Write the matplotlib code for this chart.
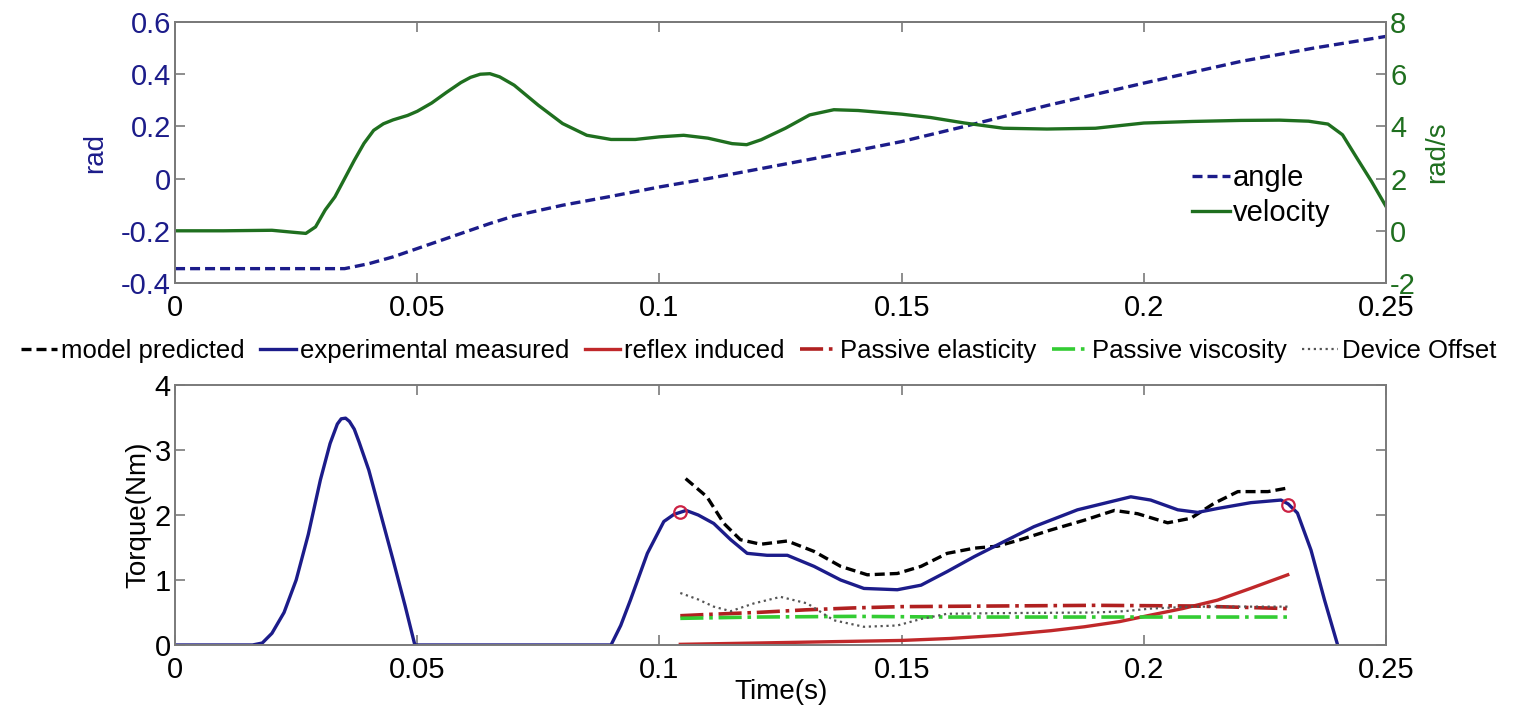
import matplotlib
matplotlib.use("Agg")
import matplotlib.pyplot as plt
from matplotlib.ticker import FormatStrFormatter
import numpy as np

plt.rcParams["font.family"] = ["Liberation Sans", "DejaVu Sans"]
plt.rcParams["axes.unicode_minus"] = False

# ---- top panel: joint angle / velocity ----
vel_t = [0, 0.01, 0.02, 0.024, 0.027, 0.029, 0.031, 0.033, 0.035, 0.037, 0.039, 0.041,
         0.043, 0.045, 0.048, 0.05, 0.053, 0.056, 0.059, 0.061, 0.063, 0.065, 0.067,
         0.07, 0.075, 0.08, 0.085, 0.09, 0.095, 0.1, 0.105, 0.11, 0.115, 0.118, 0.121,
         0.126, 0.131, 0.136, 0.141, 0.15, 0.156, 0.163, 0.171, 0.18, 0.19, 0.2, 0.21,
         0.22, 0.228, 0.234, 0.238, 0.241, 0.244, 0.247, 0.25]
velocity = [0.0, 0.0, 0.02, -0.05, -0.1, 0.15, 0.8, 1.3, 2.0, 2.7, 3.35, 3.85,
            4.1, 4.25, 4.42, 4.58, 4.9, 5.3, 5.68, 5.88, 6.0, 6.02, 5.9,
            5.58, 4.81, 4.11, 3.66, 3.5, 3.5, 3.6, 3.66, 3.55, 3.34, 3.3, 3.49,
            3.93, 4.44, 4.64, 4.61, 4.47, 4.34, 4.13, 3.93, 3.9, 3.93, 4.13, 4.19,
            4.23, 4.24, 4.2, 4.09, 3.68, 2.78, 1.89, 0.93]

ang_t = [0, 0.035, 0.04, 0.045, 0.05, 0.055, 0.06, 0.065, 0.07, 0.08, 0.09, 0.1,
         0.11, 0.12, 0.13, 0.14, 0.15, 0.163, 0.18, 0.2, 0.22, 0.235, 0.25]
angle = [-0.345, -0.345, -0.326, -0.30, -0.268, -0.236, -0.204, -0.172, -0.143,
         -0.102, -0.068, -0.032, 0.0, 0.035, 0.07, 0.105, 0.142, 0.2, 0.28, 0.366,
         0.449, 0.5, 0.545]

# ---- bottom panel: torque components ----
exp_t = [0, 0.016, 0.018, 0.02, 0.0225, 0.025, 0.0275, 0.03, 0.032, 0.0335, 0.0343,
         0.0352, 0.036, 0.037, 0.038, 0.04, 0.0425, 0.045, 0.0475, 0.0495, 0.09, 0.092,
         0.094, 0.0975, 0.1009, 0.103, 0.1055, 0.108, 0.1112, 0.1147, 0.1181, 0.1222,
         0.1264, 0.1319, 0.1374, 0.1422, 0.1491, 0.154, 0.1594, 0.165, 0.1711, 0.1773,
         0.1863, 0.1973, 0.2014, 0.207, 0.2111, 0.2152, 0.2221, 0.2283, 0.2298, 0.2317,
         0.2345, 0.2373, 0.24]
exp_torque = [0, 0, 0.03, 0.18, 0.5, 1.0, 1.7, 2.54, 3.1, 3.4, 3.48,
              3.49, 3.44, 3.32, 3.12, 2.69, 2.0, 1.31, 0.6, 0.0, 0.0, 0.3,
              0.69, 1.41, 1.9, 2.01, 2.07, 2.0, 1.87, 1.62, 1.41, 1.38,
              1.38, 1.21, 1.0, 0.87, 0.85, 0.92, 1.13, 1.36, 1.59, 1.82,
              2.08, 2.28, 2.23, 2.08, 2.04, 2.10, 2.19, 2.23, 2.17, 2.03,
              1.46, 0.69, 0.0]

model_t = [0.1054, 0.1098, 0.1133, 0.1167, 0.1209, 0.1264, 0.1319, 0.1374, 0.1429,
           0.1491, 0.154, 0.1594, 0.165, 0.1698, 0.1745, 0.1808, 0.1877, 0.1939,
           0.1987, 0.2049, 0.2097, 0.2145, 0.2194, 0.2256, 0.2293]
model_torque = [2.56, 2.28, 1.87, 1.62, 1.55, 1.60, 1.44, 1.21, 1.08,
                1.10, 1.21, 1.41, 1.49, 1.52, 1.62, 1.77, 1.92, 2.07,
                2.02, 1.88, 1.95, 2.18, 2.36, 2.36, 2.41]

reflex_t = [0.1043, 0.12, 0.135, 0.15, 0.16, 0.1705, 0.1808, 0.1877, 0.195, 0.2014,
            0.208, 0.2152, 0.222, 0.2297]
reflex = [0.01, 0.03, 0.05, 0.07, 0.1, 0.15, 0.22, 0.28, 0.36, 0.46,
          0.56, 0.69, 0.87, 1.08]

elast_t = [0.1043, 0.11, 0.12, 0.13, 0.14, 0.15, 0.17, 0.19, 0.21, 0.22, 0.2297]
elasticity = [0.45, 0.47, 0.5, 0.54, 0.57, 0.59, 0.6, 0.61, 0.6, 0.58, 0.56]

visc_t = [0.1043, 0.12, 0.14, 0.16, 0.18, 0.2, 0.2297]
viscosity = [0.41, 0.43, 0.44, 0.43, 0.43, 0.43, 0.43]

offset_t = [0.1043, 0.108, 0.1112, 0.1147, 0.1195, 0.125, 0.1305, 0.136, 0.1422,
            0.1491, 0.154, 0.1594, 0.17, 0.19, 0.196, 0.2014, 0.21, 0.2297]
offset = [0.80, 0.70, 0.59, 0.52, 0.64, 0.74, 0.64, 0.38, 0.28,
          0.30, 0.40, 0.48, 0.49, 0.50, 0.52, 0.56, 0.59, 0.59]

marker_t = [0.1043, 0.2298]
marker_torque = [2.05, 2.16]

NAVY = "#1c1c8a"
GREEN = "#1f6f1f"
SPINE = "#7a7a7a"
FS = 21


def style_axes(ax):
    for s in ax.spines.values():
        s.set_color(SPINE)
        s.set_linewidth(1.4)
    ax.tick_params(direction="in", length=7, width=1.2, color=SPINE, labelsize=FS, pad=3)
    ax.tick_params(axis="x", pad=8)


fig = plt.figure(figsize=(15.17, 7.13), dpi=100)

# top panel
ax1 = fig.add_axes([0.1154, 0.6031, 0.7983, 0.366])
ax2 = ax1.twinx()
l_ang, = ax1.plot(ang_t, angle, color=NAVY, linestyle="--", linewidth=2.4, dashes=(3, 1.5))
l_vel, = ax2.plot(vel_t, velocity, color=GREEN, linewidth=2.4)
ax1.set_xlim(0, 0.25)
ax1.set_ylim(-0.4, 0.6)
ax2.set_ylim(-2, 8)
ax1.set_xticks(np.arange(0, 0.26, 0.05))
ax1.xaxis.set_major_formatter(FormatStrFormatter("%g"))
ax1.set_yticks([-0.4, -0.2, 0, 0.2, 0.4, 0.6])
ax1.yaxis.set_major_formatter(FormatStrFormatter("%g"))
ax2.set_yticks([-2, 0, 2, 4, 6, 8])
style_axes(ax1)
style_axes(ax2)
ax1.tick_params(axis="x", top=True)
ax1.tick_params(axis="y", right=False, labelcolor=NAVY)
ax2.tick_params(axis="y", labelcolor=GREEN)
ax1.set_ylabel("rad", color=NAVY, fontsize=FS - 1, labelpad=9)
ax2.set_ylabel("rad/s", color=GREEN, fontsize=FS - 1, labelpad=6)
ax1.legend([l_ang, l_vel], ["angle", "velocity"], loc="upper left",
           bbox_to_anchor=(0.83, 0.5), frameon=False, fontsize=21,
           handlelength=1.3, handletextpad=0.1, labelspacing=0.25, borderaxespad=0)

# bottom panel
ax3 = fig.add_axes([0.1154, 0.0954, 0.7983, 0.3646])
h_model, = ax3.plot(model_t, model_torque, color="black", linestyle="--", linewidth=2.4,
                    dashes=(3, 1.5), label="model predicted")
h_exp, = ax3.plot(exp_t, exp_torque, color=NAVY, linewidth=2.4, label="experimental measured")
h_ref, = ax3.plot(reflex_t, reflex, color="#c0282a", linewidth=2.4, label="reflex induced")
h_el, = ax3.plot(elast_t, elasticity, color="#b02020", linestyle="-.", linewidth=2.6,
                 label="Passive elasticity")
h_vi, = ax3.plot(visc_t, viscosity, color="#33cc33", linestyle="-.", linewidth=2.6,
                 label="Passive viscosity")
h_off, = ax3.plot(offset_t, offset, color="#555555", linestyle=":", linewidth=1.6,
                  label="Device Offset")
ax3.plot(marker_t, marker_torque, linestyle="none", marker="o", markersize=9,
         markerfacecolor="none", markeredgecolor="#cc2244", markeredgewidth=1.6)
ax3.set_xlim(0, 0.25)
ax3.set_ylim(0, 4)
ax3.set_xticks(np.arange(0, 0.26, 0.05))
ax3.xaxis.set_major_formatter(FormatStrFormatter("%g"))
ax3.set_yticks([0, 1, 2, 3, 4])
style_axes(ax3)
ax3.tick_params(top=True, right=True)
ax3.set_xlabel("Time(s)", fontsize=FS - 1, labelpad=-4)
ax3.set_ylabel("Torque(Nm)", fontsize=FS - 1, labelpad=2)

fig.legend(handles=[h_model, h_exp, h_ref, h_el, h_vi, h_off], loc="center",
           bbox_to_anchor=(0.5, 0.508), ncol=6, frameon=False, fontsize=18.5,
           handlelength=1.4, handletextpad=0.15, columnspacing=0.6)

fig.savefig("out.png", dpi=100)
